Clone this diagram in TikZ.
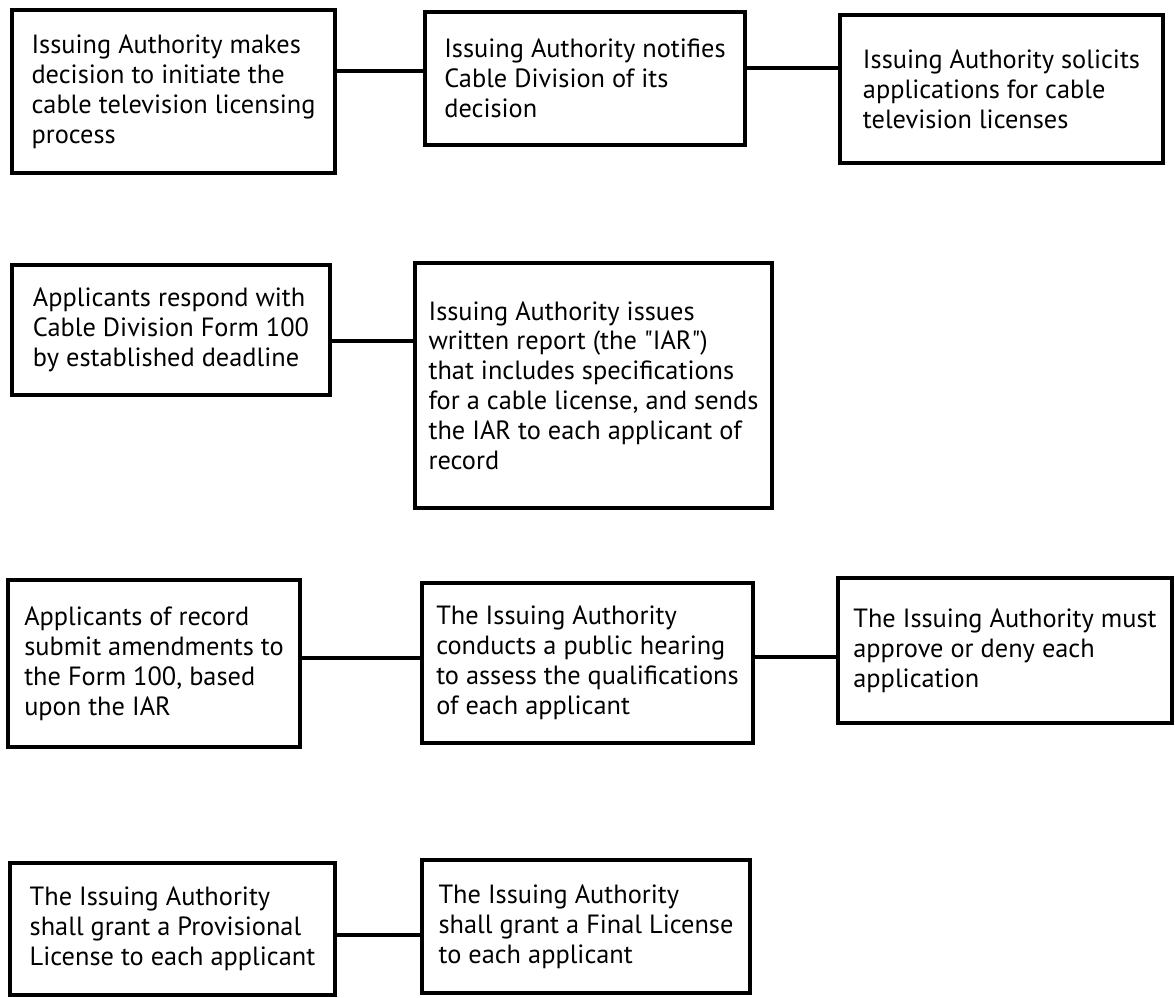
\documentclass[tikz,border=0pt]{standalone}
\usepackage{fontspec}
\setmainfont{PT Sans}[Ligatures=TeXOff]
\usetikzlibrary{positioning}

\tikzset{
  stage/.style={draw, line width=2pt, align=left, inner sep=2pt,
    font=\fontsize{15}{17}\selectfont},
  link/.style={line width=2pt}
}

\begin{document}
\begin{tikzpicture}[x=0.02cm,y=-0.02cm]
        \useasboundingbox (0,0) rectangle (1175,997);

        % first row
        \node[stage, name=decide, minimum width=6.46cm, minimum height=3.26cm] at (173.5,91.5)
          {Issuing Authority makes\\decision to initiate the\\cable television licensing\\process};
        \node[stage, name=notify, minimum width=6.40cm, minimum height=2.66cm] at (585,78.5)
          {Issuing Authority notifies\\Cable Division of its\\decision};
        \node[stage, name=solicit, minimum width=6.46cm, minimum height=2.96cm] at (1001.5,89)
          {Issuing Authority solicits\\applications for cable\\television licenses};
        %
        \coordinate (ab) at ([yshift=0.41cm]decide.east);
        \draw[link] (ab) -- (ab -| notify.west);
        \coordinate (bc) at ([yshift=0.21cm]notify.east);
        \draw[link] (bc) -- (bc -| solicit.west);

        % second row
        \node[stage, name=report, minimum width=7.14cm, minimum height=4.90cm] at (593.5,385.5)
          {Issuing Authority issues\\written report (the "IAR")\\that includes specifications\\for a cable license, and sends\\the IAR to each applicant of\\record};
        \node[stage, name=respond, minimum width=6.36cm, minimum height=2.60cm] at (171,330)
          {Applicants respond with\\Cable Division Form 100\\by established deadline};
        %
        \coordinate (de) at ([yshift=-0.22cm]respond.east);
        \draw[link] (de) -- (de -| report.west);

        % third row
        \node[stage, name=amend, minimum width=5.84cm, minimum height=3.34cm] at (154,663.5)
          {Applicants of record\\submit amendments to\\the Form 100, based\\upon the IAR};
        \node[stage, name=hearing, minimum width=6.62cm, minimum height=3.20cm] at (587.5,663)
          {The Issuing Authority\\conducts a public hearing\\to assess the qualifications\\of each applicant};
        \node[stage, name=approve, minimum width=6.68cm, minimum height=2.90cm] at (1005,650.5)
          {The Issuing Authority must\\approve or deny each\\application};
        %
        \coordinate (fg) at ([yshift=0.11cm]amend.east);
        \draw[link] (fg) -- (fg -| hearing.west);
        \coordinate (gh) at ([yshift=0.12cm]hearing.east);
        \draw[link] (gh) -- (gh -| approve.west);

        % fourth row
        \node[stage, name=provisional, minimum width=6.50cm, minimum height=2.64cm] at (172.5,929)
          {The Issuing Authority\\shall grant a Provisional\\License to each applicant};
        \node[stage, name=final, minimum width=6.56cm, minimum height=2.66cm] at (586,926.5)
          {The Issuing Authority\\shall grant a Final License\\to each applicant};
        %
        \coordinate (ij) at ([yshift=-0.12cm]provisional.east);
        \draw[link] (ij) -- (ij -| final.west);

\end{tikzpicture}
\end{document}
